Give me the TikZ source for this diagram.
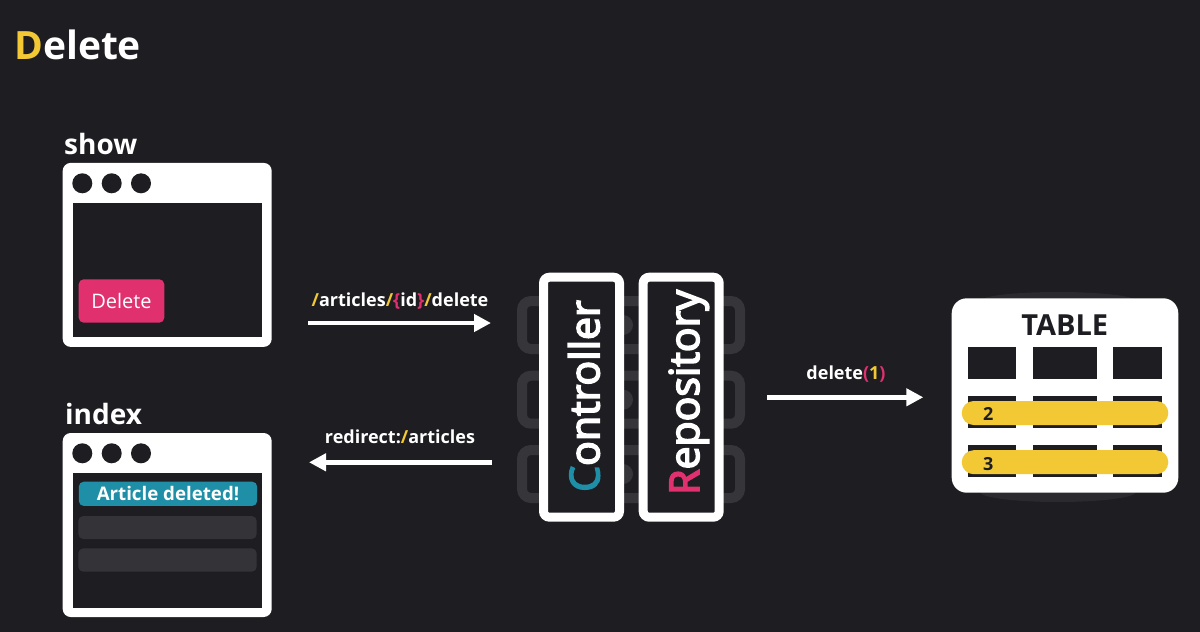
\documentclass[tikz,border=0pt]{standalone}
\usepackage{fontspec}
\setmainfont{Open Sans}
\newfontfamily\medfont{Open Sans}[FakeBold=4]
\usetikzlibrary{arrows.meta}
\definecolor{bg}{HTML}{1D1D22}
\definecolor{ylw}{HTML}{F2C935}
\definecolor{pnk}{HTML}{E0306E}
\definecolor{tel}{HTML}{1E8FA6}
\definecolor{gbar}{HTML}{333338}
\definecolor{srv}{HTML}{36363A}
\definecolor{shd}{HTML}{2A2A2F}
\tikzset{
  arr/.style={draw=white, line width=4.5pt, -{Triangle[length=17pt,width=17pt]}},
  winframe/.style={fill=white, rounded corners=8pt, inner sep=0pt, minimum width=209pt, minimum height=184pt},
  wininner/.style={fill=bg, inner sep=0pt, minimum width=189.6pt, minimum height=134.6pt},
  dot/.style={circle, fill=bg, inner sep=0pt, minimum size=20pt},
  lbl/.style={text=white, inner sep=0pt, font=\bfseries\fontsize{18}{18}\selectfont},
  head/.style={text=white, inner sep=0pt, anchor=base west, font=\bfseries\fontsize{28}{28}\selectfont},
  vbox/.style={draw=white, line width=9pt, fill=bg, rounded corners=6pt, inner sep=0pt, minimum width=76pt, minimum height=240pt},
  vtext/.style={text=white, inner sep=0pt, rotate=90, anchor=base, font=\medfont\fontsize{41}{41}\selectfont},
  ybar/.style={fill=ylw, rounded corners=12pt, inner sep=0pt, minimum width=206.6pt, minimum height=24pt},
  num/.style={text=bg, inner sep=0pt, anchor=base, font=\bfseries\fontsize{18}{18}\selectfont},
  server/.style={draw=srv, line width=10pt, rounded corners=9pt}
}
\begin{document}
\begin{tikzpicture}[x=1pt,y=-1pt]
\fill[bg] (0,0) rectangle (1200,632);
\useasboundingbox (0,0) rectangle (1200,632);

% title
\node[inner sep=0pt, anchor=base west, text=white, font=\bfseries\fontsize{39}{39}\selectfont] (title) at (14,59.3) {{\color{ylw}D}elete};

% show window
\node[head] (showlbl) at (64,154) {show};
\node[winframe] (show) at (167.2,254.9) {};
\node[wininner] (showin) at (167.5,270) {};
\node[dot] (sd1) at (82.3,183.3) {};
\node[dot] (sd2) at (111.7,183.3) {};
\node[dot] (sd3) at (141,183.3) {};
\node[fill=pnk, rounded corners=5pt, inner sep=0pt, minimum width=85.6pt, minimum height=43.4pt, text=white, font=\fontsize{20}{20}\selectfont] (delbtn) at (121.5,301) {Delete};

% index window
\node[head] (indexlbl) at (65,424.3) {index};
\node[winframe] (index) at (167.2,525) {};
\node[wininner] (indexin) at (167.5,540.3) {};
\node[dot] (id1) at (82.3,453.3) {};
\node[dot] (id2) at (111.7,453.3) {};
\node[dot] (id3) at (141,453.3) {};
\node[fill=tel, rounded corners=5pt, inner sep=0pt, minimum width=178.4pt, minimum height=24.3pt, text=white, font=\bfseries\fontsize{18.7}{18.7}\selectfont] (msg) at (168,493.8) {Article deleted!};
\node[fill=gbar, rounded corners=5pt, inner sep=0pt, minimum width=178.4pt, minimum height=23pt] (row1) at (167.5,527.5) {};
\node[fill=gbar, rounded corners=5pt, inner sep=0pt, minimum width=178.4pt, minimum height=23.4pt] (row2) at (167.5,560) {};

% arrows left
\node[lbl, anchor=base] (req) at (400,306) {{\color{ylw}/}articles{\color{ylw}/}{\color{pnk}\{}id{\color{pnk}\}}{\color{ylw}/}delete};
\coordinate (a1s) at (308,323);
\coordinate (a1e) at (491,323);
\draw[arr] (a1s) -- (a1e);
\node[lbl, anchor=base] (redir) at (400,443.3) {redirect:{\color{ylw}/}articles};
\coordinate (a2s) at (491.7,462.3);
\coordinate (a2e) at (309,462.3);
\draw[arr] (a2s) -- (a2e);

% server background
\foreach \yy [count=\i] in {296,370.7,445}{
  \draw[server] (522,\yy+5) rectangle (740,\yy+53);
  \fill[srv] (623,\yy+29) circle (10pt);
}

% controller & repository
\node[vbox] (ctrl) at (581.5,397.2) {};
\node[vbox] (repo) at (681.2,397.2) {};
\node[vtext] (ctrltxt) at (599.3,396) {{\color{tel}C}ontroller};
\node[vtext] (repotxt) at (699,392.4) {{\color{pnk}R}epository};

% delete(1) arrow
\node[lbl, anchor=base] (dcall) at (846,379) {delete{\color{pnk}(}{\color{ylw}1}{\color{pnk})}};
\coordinate (a3s) at (767,397.3);
\coordinate (a3e) at (923.3,397.3);
\draw[arr] (a3s) -- (a3e);

% table
\fill[shd] (1058,301) ellipse [x radius=78, y radius=9];
\fill[shd] (1058,492) ellipse [x radius=78, y radius=10];
\node[fill=white, rounded corners=15pt, inner sep=0pt, minimum width=226.6pt, minimum height=194.4pt] (table) at (1065,395.5) {};
\node[inner sep=0pt, anchor=base, text=bg, font=\bfseries\fontsize{29}{29}\selectfont] (tbltitle) at (1064.7,335) {TABLE};
\foreach \ya/\yb [count=\r] in {347.3/379.3, 396/428.3, 445/476.7}{
  \foreach \xa/\xb [count=\c] in {967.7/1016, 1032.7/1096.7, 1113.3/1162.3}{
    \fill[bg] (\xa,\ya) rectangle (\xb,\yb);
  }
}
\node[ybar] (bar2) at (1065,413) {};
\node[ybar] (bar3) at (1065,462.2) {};
\node[num] (n2) at (988.3,420.7) {2};
\node[num] (n3) at (988.3,470) {3};
\end{tikzpicture}
\end{document}
